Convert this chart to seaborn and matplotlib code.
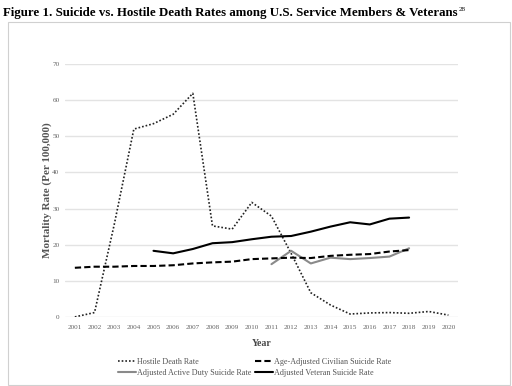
import numpy as np
import pandas as pd
import seaborn as sns
import matplotlib.pyplot as plt
from matplotlib.patches import Rectangle

# Datos
years = list(range(2001, 2021))
hostile = [0.0, 1.2, 25.5, 52.0, 53.5, 56.1, 61.9, 25.2, 24.3, 31.7,
           27.9, 17.6, 6.7, 3.3, 0.8, 1.1, 1.2, 1.0, 1.5, 0.5]
civilian_years = list(range(2001, 2019))
civilian = [13.6, 13.9, 13.9, 14.1, 14.1, 14.3, 14.8, 15.1, 15.3, 16.0,
            16.2, 16.4, 16.3, 16.9, 17.2, 17.4, 18.1, 18.5]
active_years = list(range(2011, 2019))
active = [14.6, 18.3, 14.8, 16.4, 16.0, 16.3, 16.7, 19.0]
veteran_years = list(range(2005, 2019))
veteran = [18.3, 17.6, 18.8, 20.4, 20.7, 21.5, 22.2, 22.4, 23.6, 25.0,
           26.2, 25.6, 27.2, 27.5]

sns.set_theme(style="white")
plt.rcParams['font.family'] = ['Liberation Serif', 'DejaVu Serif']

fig = plt.figure(figsize=(5.12, 3.86), dpi=100)
ax = fig.add_axes([0.127, 0.179, 0.768, 0.655])

# Marco del gráfico
fig.patches.append(Rectangle((8 / 512, 1 - 385 / 386), 502 / 512, 363 / 386,
                             transform=fig.transFigure, fill=False,
                             edgecolor="#d0d0d0", linewidth=0.8))

sns.lineplot(x=years, y=hostile, ax=ax, color="#222222", linewidth=1.2,
             linestyle=(0, (1, 1.2)), label="Hostile Death Rate")
sns.lineplot(x=active_years, y=active, ax=ax, color="#8a8a8a", linewidth=1.5,
             label="Adjusted Active Duty Suicide Rate")
sns.lineplot(x=civilian_years, y=civilian, ax=ax, color="black", linewidth=1.5,
             linestyle=(0, (3, 1.5)), label="Age-Adjusted Civilian Suicide Rate")
sns.lineplot(x=veteran_years, y=veteran, ax=ax, color="black", linewidth=1.5,
             label="Adjusted Veteran Suicide Rate")

ax.set_xlim(2000.5, 2020.5)
ax.set_ylim(0, 70)
ax.set_yticks(range(0, 71, 10))
ax.set_xticks(years)
ax.set_xticklabels([str(y) for y in years])
ax.yaxis.grid(True, color="#e3e3e3", linewidth=1.0)
ax.xaxis.grid(False)
for s in ax.spines.values():
    s.set_visible(False)
ax.tick_params(axis="both", length=0, labelsize=5.2, labelcolor="#666666")
ax.tick_params(axis="x", pad=6)
ax.tick_params(axis="y", pad=4)

ax.set_xlabel("Year", fontsize=7, fontweight="bold", color="#444444", labelpad=6)
ax.set_ylabel("Mortality Rate (Per 100,000)", fontsize=8, fontweight="bold",
              color="#555555", labelpad=0)

handles, labels = ax.get_legend_handles_labels()
ax.get_legend().remove()
fig.legend(handles, labels, ncol=2, loc="center", bbox_to_anchor=(0.497, 0.048),
           frameon=False, fontsize=5.9, labelcolor="#555555", handlelength=2.2,
           handletextpad=0.1, columnspacing=0.4, labelspacing=0.45)

# Título con superíndice
title = fig.text(3 / 512, 1 - 16 / 386, "Figure 1. Suicide vs. Hostile Death Rates among U.S. Service Members & Veterans",
                 fontsize=9.3, fontweight="bold", color="black", ha="left", va="baseline")
fig.canvas.draw()
bb = title.get_window_extent()
fig.text(bb.x1 / 512 + 0.002, 1 - 11 / 386, "28", fontsize=5, color="black",
         ha="left", va="baseline")

fig.savefig("out.png", dpi=100)
